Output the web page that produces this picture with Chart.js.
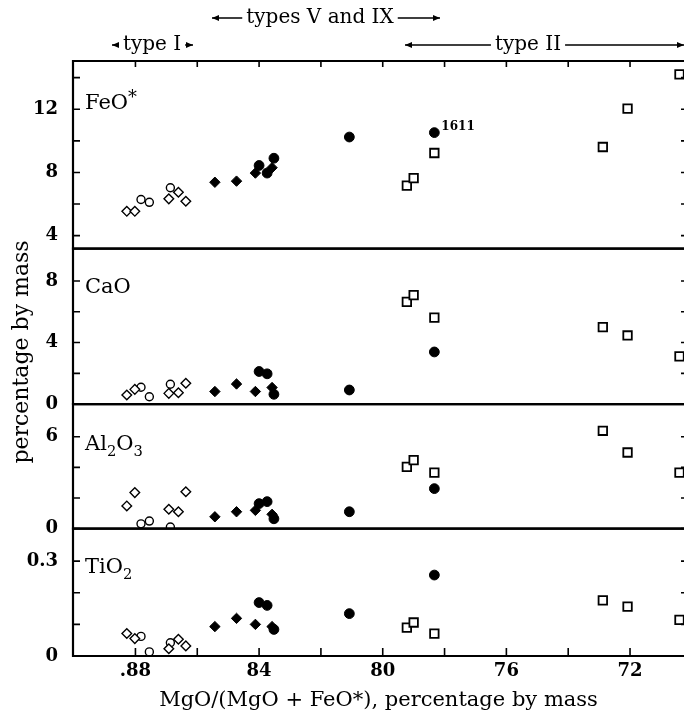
<!DOCTYPE html>
<html lang="en">
<head>
<meta charset="UTF-8">
<title>MgO/(MgO+FeO*) vs oxides</title>
<script src="https://cdn.jsdelivr.net/npm/chart.js"></script>
<style>
    body {
        margin: 0;
        background: #fff;
        overflow: hidden;
    }
</style>
</head>
<body>
<canvas id="chart" width="684" height="712"></canvas>

<script>
    // x: MgO/(MgO+FeO*), one value per sample (shared by every panel)
    const openDiamondX   = [88.28, 88.02, 86.92, 86.61, 86.37];
    const openCircleX    = [87.82, 87.55, 86.87];
    const filledDiamondX = [85.43, 84.73, 84.12, 83.58];
    const filledCircleX  = [84.0, 83.74, 83.52, 81.08, 78.33];
    const openSquareX    = [79.22, 79.0, 78.33, 72.88, 72.08, 70.4];

    // FeO*
    const feoOpenDiamond   = [5.54, 5.54, 6.33, 6.75, 6.18];
    const feoOpenCircle    = [6.29, 6.11, 7.03];
    const feoFilledDiamond = [7.38, 7.45, 7.96, 8.3];
    const feoFilledCircle  = [8.44, 7.96, 8.9, 10.24, 10.52];
    const feoOpenSquare    = [7.17, 7.64, 9.23, 9.61, 12.04, 14.2];
    // CaO
    const caoOpenDiamond   = [0.59, 0.96, 0.70, 0.74, 1.36];
    const caoOpenCircle    = [1.10, 0.48, 1.29];
    const caoFilledDiamond = [0.82, 1.31, 0.82, 1.08];
    const caoFilledCircle  = [2.12, 1.97, 0.64, 0.92, 3.39];
    const caoOpenSquare    = [6.64, 7.08, 5.62, 5.0, 4.46, 3.10];
    // Al2O3
    const alOpenDiamond    = [1.48, 2.35, 1.26, 1.10, 2.41];
    const alOpenCircle     = [0.31, 0.49, 0.10];
    const alFilledDiamond  = [0.77, 1.10, 1.19, 0.93];
    const alFilledCircle   = [1.63, 1.76, 0.64, 1.10, 2.61];
    const alOpenSquare     = [4.03, 4.47, 3.66, 6.39, 4.97, 3.66];
    // TiO2
    const tiOpenDiamond    = [0.071, 0.055, 0.023, 0.053, 0.032];
    const tiOpenCircle     = [0.062, 0.013, 0.042];
    const tiFilledDiamond  = [0.093, 0.119, 0.100, 0.093];
    const tiFilledCircle   = [0.169, 0.160, 0.084, 0.134, 0.256];
    const tiOpenSquare     = [0.090, 0.106, 0.071, 0.176, 0.156, 0.114];

    // ticks
    const xTickValues = [88, 86, 84, 82, 80, 78, 76, 74, 72];
    const xTickLabels = ['.88', '', '84', '', '80', '', '76', '', '72'];
    const feoTicks = [4, 6, 8, 10, 12, 14];
    const feoTickLabels = ['4', '', '8', '', '12', ''];
    const caoTicks = [0, 2, 4, 6, 8];
    const caoTickLabels = ['0', '', '4', '', '8'];
    const alTicks = [0, 2, 4, 6];
    const alTickLabels = ['0', '', '', '6'];
    const tiTicks = [0, 0.1, 0.2, 0.3];
    const tiTickLabels = ['0', '', '', '0.3'];

    const FONT = '"DejaVu Serif", serif';

    const groups = [
        { key: 'openDiamond',   x: openDiamondX,   style: 'rectRot', r: 4.8, fill: '#fff', bw: 1.4 },
        { key: 'openCircle',    x: openCircleX,    style: 'circle',  r: 4.0, fill: '#fff', bw: 1.4 },
        { key: 'filledDiamond', x: filledDiamondX, style: 'rectRot', r: 5.2, fill: '#000', bw: 1 },
        { key: 'filledCircle',  x: filledCircleX,  style: 'circle',  r: 4.9, fill: '#000', bw: 1 },
        { key: 'openSquare',    x: openSquareX,    style: 'rect',    r: 6.0, fill: '#fff', bw: 1.8 }
    ];

    const panels = [
        { id: 'yFeO', min: 3.18, max: 15.05, weight: 187, ticks: feoTicks, labels: feoTickLabels,
          name: [['FeO', 0], ['*', -1]], labelY: 48,
          values: { openDiamond: feoOpenDiamond, openCircle: feoOpenCircle, filledDiamond: feoFilledDiamond, filledCircle: feoFilledCircle, openSquare: feoOpenSquare } },
        { id: 'yCaO', min: 0, max: 10.1, weight: 155, ticks: caoTicks, labels: caoTickLabels,
          name: [['CaO', 0]], labelY: 44,
          values: { openDiamond: caoOpenDiamond, openCircle: caoOpenCircle, filledDiamond: caoFilledDiamond, filledCircle: caoFilledCircle, openSquare: caoOpenSquare } },
        { id: 'yAl', min: 0, max: 8.13, weight: 124, ticks: alTicks, labels: alTickLabels,
          name: [['Al', 0], ['2', 1], ['O', 0], ['3', 1]], labelY: 46,
          values: { openDiamond: alOpenDiamond, openCircle: alOpenCircle, filledDiamond: alFilledDiamond, filledCircle: alFilledCircle, openSquare: alOpenSquare } },
        { id: 'yTi', min: 0, max: 0.403, weight: 127, ticks: tiTicks, labels: tiTickLabels,
          name: [['TiO', 0], ['2', 1]], labelY: 44,
          values: { openDiamond: tiOpenDiamond, openCircle: tiOpenCircle, filledDiamond: tiFilledDiamond, filledCircle: tiFilledCircle, openSquare: tiOpenSquare } }
    ];

    const datasets = [];
    panels.forEach(p => {
        groups.forEach(g => {
            datasets.push({
                label: p.id + ' ' + g.key,
                yAxisID: p.id,
                data: g.x.map((xv, k) => ({ x: xv, y: p.values[g.key][k] })),
                pointStyle: g.style,
                pointRadius: g.r,
                pointBackgroundColor: g.fill,
                pointBorderColor: '#000',
                pointBorderWidth: g.bw,
                showLine: false
            });
        });
    });

    const scales = {
        x: {
            type: 'linear',
            reverse: true,
            min: 70.254,   // the right frame of the original lies just past the image edge
            max: 90.02,
            afterBuildTicks: s => { s.ticks = xTickValues.map(v => ({ value: v })); },
            afterFit: s => { s.height = 56; },
            grid: { display: false, drawTicks: false },
            border: { display: false },
            ticks: {
                autoSkip: false, maxRotation: 0, padding: 5, color: '#000',
                font: { family: FONT, size: 18, weight: 'bold' },
                callback: (v, i) => xTickLabels[i]
            },
            title: {
                display: true,
                text: 'MgO/(MgO + FeO*), percentage by mass',
                color: '#000',
                padding: 0,
                font: { family: FONT, size: 21, lineHeight: 1.05 }
            }
        }
    };
    panels.forEach((p, i) => {
        scales[p.id] = {
            type: 'linear',
            position: 'left',
            stack: 'panels',
            stackWeight: p.weight,
            weight: panels.length - i,
            min: p.min,
            max: p.max,
            afterBuildTicks: s => { s.ticks = p.ticks.map(v => ({ value: v })); },
            afterFit: s => { s.width = 73; },
            grid: { display: false, drawTicks: false },
            border: { display: false },
            ticks: {
                autoSkip: false, padding: 15, color: '#000',
                font: { family: FONT, size: 18, weight: 'bold' },
                callback: (v, k) => p.labels[k]
            }
        };
    });

    function drawChem(ctx, parts, x, y, size) {
        for (const [txt, shift] of parts) {
            const s = shift ? (txt === '*' ? size * 0.85 : size * 0.7) : size;
            ctx.font = s + 'px ' + FONT;
            ctx.fillText(txt, x, y + shift * size * 0.3);
            x += ctx.measureText(txt).width;
        }
    }

    function arrowHead(ctx, x, y, dir) {
        ctx.beginPath();
        ctx.moveTo(x, y);
        ctx.lineTo(x - dir * 7, y - 3);
        ctx.lineTo(x - dir * 7, y + 3);
        ctx.closePath();
        ctx.fill();
    }

    function rangeLabel(ctx, text, cx, y, leftEnd, rightEnd) {
        ctx.font = '20px ' + FONT;
        ctx.textAlign = 'center';
        ctx.textBaseline = 'middle';
        ctx.fillText(text, cx, y);
        const w = ctx.measureText(text).width;
        ctx.lineWidth = 1.3;
        ctx.beginPath();
        ctx.moveTo(cx - w / 2 - 4, y);
        ctx.lineTo(leftEnd, y);
        ctx.moveTo(cx + w / 2 + 4, y);
        ctx.lineTo(rightEnd, y);
        ctx.stroke();
        arrowHead(ctx, leftEnd, y, -1);
        arrowHead(ctx, rightEnd, y, 1);
    }

    const framePlugin = {
        id: 'framePlugin',
        afterDraw(chart) {
            const { ctx, chartArea: ca, scales: sc } = chart;
            ctx.save();
            ctx.strokeStyle = '#000';
            ctx.fillStyle = '#000';

            // panel frames (right side is off the image) and inward ticks
            panels.forEach(p => {
                const s = sc[p.id];
                ctx.lineWidth = 2.2;
                ctx.beginPath();
                ctx.moveTo(ca.right + 2, s.top);
                ctx.lineTo(ca.left, s.top);
                ctx.lineTo(ca.left, s.bottom);
                ctx.lineTo(ca.right + 2, s.bottom);
                ctx.stroke();
                ctx.lineWidth = 1.6;
                ctx.beginPath();
                p.ticks.forEach(v => {
                    const y = s.getPixelForValue(v);
                    ctx.moveTo(ca.left, y); ctx.lineTo(ca.left + 7, y);
                    ctx.moveTo(ca.right + 4, y); ctx.lineTo(ca.right - 3, y);
                });
                ctx.stroke();

                ctx.textAlign = 'left';
                ctx.textBaseline = 'alphabetic';
                drawChem(ctx, p.name, ca.left + 12, s.top + p.labelY, 21);
            });

            ctx.lineWidth = 1.6;
            ctx.beginPath();
            xTickValues.forEach(v => {
                const x = sc.x.getPixelForValue(v);
                ctx.moveTo(x, ca.top); ctx.lineTo(x, ca.top + 6);
                ctx.moveTo(x, ca.bottom); ctx.lineTo(x, ca.bottom - 8);
            });
            ctx.stroke();

            // sample label
            const feoIdx = groups.findIndex(g => g.key === 'filledCircle');
            const pt = chart.getDatasetMeta(feoIdx).data[4];
            ctx.font = 'bold 12px ' + FONT;
            ctx.textAlign = 'left';
            ctx.textBaseline = 'alphabetic';
            ctx.fillText('1611', pt.x + 7, pt.y - 3);

            // y title
            ctx.save();
            ctx.translate(22, 352);
            ctx.rotate(-Math.PI / 2);
            ctx.font = '22px ' + FONT;
            ctx.textAlign = 'center';
            ctx.textBaseline = 'middle';
            ctx.fillText('percentage by mass', 0, 0);
            ctx.restore();

            // type ranges
            rangeLabel(ctx, 'types V and IX', 320, 18, 212, 440);
            rangeLabel(ctx, 'type I', 152, 45, 112, 193);
            rangeLabel(ctx, 'type II', 528, 45, 405, 684);

            ctx.restore();
        }
    };

    new Chart(document.getElementById('chart'), {
        type: 'scatter',
        data: { datasets: datasets },
        options: {
            responsive: false,
            animation: false,
            layout: { autoPadding: false, padding: { top: 61, right: 0, left: 0, bottom: 0 } },
            scales: scales,
            plugins: {
                legend: { display: false },
                tooltip: { enabled: false }
            }
        },
        plugins: [framePlugin]
    });
</script>
</body>
</html>
